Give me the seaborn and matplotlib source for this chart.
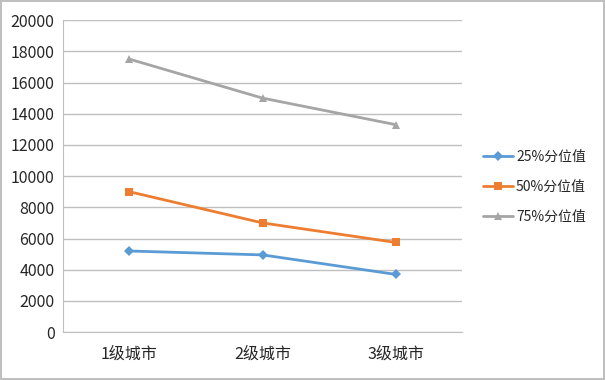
import pandas as pd
import matplotlib.pyplot as plt
import seaborn as sns

# Data
cities = ['1级城市', '2级城市', '3级城市']
p25 = [5200, 4950, 3700]
p50 = [9000, 7000, 5750]
p75 = [17500, 15000, 13300]
series_names = ['25%分位值', '50%分位值', '75%分位值']

df = pd.DataFrame({
    'city': cities * 3,
    'value': p25 + p50 + p75,
    'series': [s for s in series_names for _ in cities],
})

sns.set_style('white')
plt.rcParams['font.family'] = ['Noto Sans CJK SC', 'DejaVu Sans']

fig = plt.figure(figsize=(6.05, 3.80), dpi=100, edgecolor='#bfbfbf', linewidth=1.5)
ax = fig.add_axes([0.104, 0.126, 0.66, 0.821])

colors = {'25%分位值': '#5B9BD5', '50%分位值': '#ED7D31', '75%分位值': '#A5A5A5'}
markers = {'25%分位值': 'D', '50%分位值': 's', '75%分位值': '^'}
sns.lineplot(data=df, x='city', y='value', hue='series', style='series',
             palette=colors, markers=markers, dashes=False, markersize=6,
             linewidth=2, markeredgewidth=0, ax=ax, sort=False)

# diamonds a bit smaller
for line in ax.get_lines():
    if line.get_marker() == 'D':
        line.set_markersize(5)

ax.set_ylim(0, 20000)
ax.set_yticks(range(0, 20001, 2000))
ax.set_xlim(-0.5, 2.5)
ax.set_xticks([0, 1, 2])
ax.set_xticks([-0.5, 0.5, 1.5, 2.5], minor=True)
ax.tick_params(axis='x', which='major', length=0, pad=10, labelsize=11.5)
ax.tick_params(axis='x', which='minor', length=4, color='#bfbfbf', direction='out')
ax.tick_params(axis='y', length=0, labelsize=11.5, pad=6)
ax.yaxis.grid(True, color='#bfbfbf', linewidth=1)
ax.set_xlabel('')
ax.set_ylabel('')
for side in ['top', 'right']:
    ax.spines[side].set_visible(False)
ax.spines['left'].set_color('#bfbfbf')
ax.spines['bottom'].set_color('#bfbfbf')

handles, labels = ax.get_legend_handles_labels()
for h in handles:
    if h.get_marker() == 'D':
        h.set_markersize(5)
ax.legend(handles, labels, loc='center left', bbox_to_anchor=(1.02, 0.465),
          frameon=False, fontsize=10, handlelength=2.2, labelspacing=1.15,
          handletextpad=0.2)

fig.savefig('out.png', dpi=100)
